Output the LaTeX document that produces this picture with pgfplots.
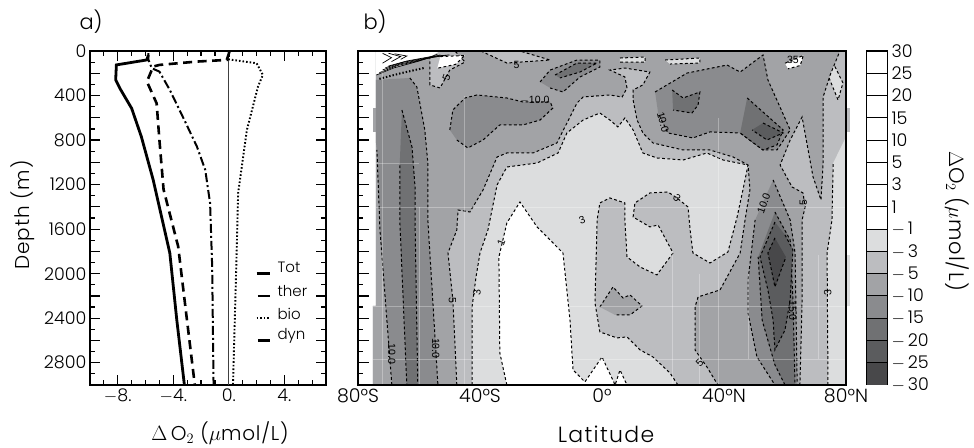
\documentclass[border=0pt]{standalone}
\usepackage{fontspec}
\setmainfont{Poppins}[UprightFont=* Light]
\newfontfamily\lab{Liberation Sans}
\usepackage{pgfplots}
\usepackage{pgfplotstable}
\pgfplotsset{compat=1.18}
\definecolor{cA}{HTML}{DCDDDE}
\definecolor{cB}{HTML}{BCBDC0}
\definecolor{cC}{HTML}{A2A3A6}
\definecolor{cD}{HTML}{8A8B8E}
\definecolor{cE}{HTML}{707173}
\definecolor{cF}{HTML}{5B5C5E}
\definecolor{cG}{HTML}{48484A}
\pgfplotstableread{
lat d
-42.6 3000
-42.6 2299
-41.3 2029
-40 1814
-37.4 1607
-34.4 1203
-31.2 1042
-21.3 1006
-14.4 916
-11.5 736
-6.2 620
-0.7 557
2.6 620
5.2 682
7.5 602
10.2 709
13.4 916
18 961
26.6 979
34.4 916
39.7 979
47.9 1024
46.2 1248
44.3 1491
41.3 1805
35.4 1904
29.8 1814
28.9 1607
28.2 1401
24.6 1320
21.6 1266
15.7 1275
10.8 1365
10.2 1491
15.7 1580
18.4 1563
23.3 1814
18 2011
12.5 1940
8.2 1850
7.5 1518
7.5 1365
2.6 1320
-0.7 1365
-1.6 1518
-2.3 2263
-0.7 2523
4.9 2577
8.2 2568
12.5 2685
16.7 2748
22.3 2892
24.9 3000
}\Lthree
\pgfplotstableread{
lat d
-31.2 3000
-33.5 2712
-33.8 1850
-31.2 1545
-26.9 1356
-21.3 1580
-12.8 1814
-10.5 2416
-9.5 2865
-5.6 2972
0 2748
2 2865
4.3 3000
5.9 2865
8.2 3000
}\Lone
\pgfplotstableread{
lat d
-75.1 3000
-47.6 3000
-48.9 2236
-50.5 1814
-47.6 1607
-47.2 1428
-43.3 1446
-39 1248
-34.4 952
-31.2 916
-22.6 916
-14.8 826
-11.5 647
-8.2 467
-6.2 413
2.6 395
6.6 413
8.2 332
7.5 233
2.6 171
7.5 153
15.7 189
13.4 305
10.2 350
10.2 440
11.5 620
13.4 736
16.7 826
26.6 889
35.4 889
43 952
47.9 1024
48.5 1248
46.9 1518
45.3 1814
38.7 2146
31.5 2209
30.5 2299
30.5 2685
34.4 2838
38 3000
64.9 3000
65.6 2236
65.6 1518
66.6 1401
65.9 1275
62.3 1221
58.4 1024
61.7 799
65.6 593
69.2 1131
71.8 1338
72.5 1006
72.5 413
74.8 216
78 0
-74.1 0
-74.1 2290
-75.1 2290
}\Lfive
\pgfplotstableread{
lat d
-68.9 3000
-72.8 1607
-73.8 889
-74.1 826
-74.1 260
-63 242
-60.7 323
-58.1 709
-57.1 1006
-57.1 1518
-53.8 3000
}\TenS
\pgfplotstableread{
lat d
-65.6 530
-62.3 862
-61.3 1221
-61.3 1518
-60.4 3000
-64 3000
-66.3 1518
-66.3 1006
}\FifS
\pgfplotstableread{
lat d
-49.9 709
-48.9 530
-44.9 422
-41 395
-31.2 422
-25.9 458
-17 458
-16.1 512
-20.3 620
-25.9 664
-33.5 664
-39 799
-44 871
-47.6 799
}\TenMid
\pgfplotstableread{
lat d
-20.3 278
-17 171
-8.2 81
-0.7 81
-0.7 144
-7.2 233
-12.8 368
-17 332
}\TenTop
\pgfplotstableread{
lat d
-15.4 216
-8.2 108
-1.6 108
-7.2 189
-13.8 242
}\FifTop
\pgfplotstableread{
lat d
-56.4 0
-56.4 305
-53.1 332
-49.9 171
-44.9 99
-48.2 0
}\LobeA
\pgfplotstableread{
lat d
-39.7 0
-31.2 108
-17 81
-26.9 0
}\LobeB
\pgfplotstableread{
lat d
17.4 368
27.9 198
41 126
45.3 189
52.8 36
54.4 260
61.7 709
57.4 889
52.8 889
45.3 736
35.4 727
29.8 781
21.6 736
18.4 557
}\TenN
\pgfplotstableread{
lat d
47.6 422
59.4 709
57.4 844
52.8 889
45.3 736
}\FifN
\pgfplotstableread{
lat d
52.8 647
59.4 736
54.1 799
49.2 709
}\TwoN
\pgfplotstableread{
lat d
23 350
26.6 422
32.1 368
31.5 485
29.5 557
23.3 530
}\FifB
\pgfplotstableread{
lat d
56.1 1158
61.7 1518
63.3 1814
64 3000
56.7 3000
50.8 2748
47.9 2353
47.9 2056
50.2 1518
}\TenL
\pgfplotstableread{
lat d
56.7 1446
61.7 1697
62.6 2236
63.3 3000
60 3000
56.7 2820
52.5 2416
51.2 1850
}\FifL
\pgfplotstableread{
lat d
56.7 1536
51.8 1850
54.4 2146
56.1 2416
56.7 2685
60 2505
61.7 2236
62.6 1787
60 1652
}\TwoL
\pgfplotstableread{
lat d
56.7 1679
54.4 1814
56.7 2119
60.3 1850
}\TwfL
\pgfplotstableread{
lat d
74.1 3000
73.8 1814
75.4 1518
75.8 1006
80 772
80 3000
}\RightL
\pgfplotstableread{
lat d
73.8 198
77.4 440
79 287
75.8 108
}\RightT
\pgfplotstableread{
lat d
-0.7 2299
3.6 2119
6.9 2218
9.2 2191
13.1 2290
9.2 2371
4.3 2371
}\BlobC
\pgfplotstableread{
lat d
-53 50
-45 40
-48 120
-54 155
}\SpA
\pgfplotstableread{
lat d
5.9 63
14.1 54
14.1 99
5.9 99
}\SpB
\pgfplotstableread{
lat d
20.7 81
32.1 63
32.1 108
22.3 117
}\SpC
\pgfplotstableread{
lat d
60 110
66 40
65 130
61 160
}\SpD
\pgfplotsset{
  ctr/.style={black,line width=1pt,dash pattern=on 2.8pt off 2.4pt,restrict x to domain=-74:79.9,unbounded coords=jump},
  base/.style={scale only axis,tick align=inside,axis line style={line width=1.6pt},
    tick style={black,line width=1.2pt},
    /pgf/number format/assume math mode=true,
    /pgf/number format/1000 sep={},
    tick label style={font=\fontsize{17.5}{19}\selectfont}},
}
\newcommand{\reg}[2]{\addplot[fill=#1,draw=none,forget plot] table[x=lat,y=d] {#2};
  \addplot[ctr,forget plot] table[x=lat,y=d] {#2};}
\newcommand{\clab}[4]{\node[font=\fontsize{10.5}{11}\selectfont\lab,inner sep=0.3pt,rotate=#4] at (axis cs:#1,#2) {#3};}
\begin{document}
\begin{tikzpicture}[x=1pt,y=1pt]
\path[use as bounding box] (0,0) rectangle (974,447);
% panel a
\begin{axis}[base,at={(90pt,62pt)},anchor=south west,width=236pt,height=334pt,
  xmin=-10,xmax=7,ymin=0,ymax=3000,y dir=reverse,
  xtick={-8,-4,0,4},xticklabels={$-$8.,$-$4.,0.,4.},
  minor xtick={-9,-7,-6,-5,-3,-2,-1,1,2,3,5,6},
  ytick={0,200,...,3000},
  yticklabels={0,{},400,{},800,{},1200,{},1600,{},2000,{},2400,{},2800,{}},
  minor ytick={100,300,...,2900},
  major tick length=10pt,minor tick length=5pt,
  xtick pos=both,ytick pos=both,xticklabel pos=bottom,yticklabel pos=left,
  clip=false]
\addplot[black!75,line width=0.8pt,forget plot] coordinates {(0,0) (0,3000)};
\addplot[black,line width=2.8pt,forget plot] coordinates {(-5.8,36) (-5.9,80) (-8.1,125) (-8.15,260) (-7.85,335) (-7,515) (-6.3,770) (-5.45,1157) (-4.25,1815) (-3.75,2413) (-3.2,3000)};
\addplot[black,line width=2.6pt,dash pattern=on 9pt off 5.5pt,forget plot] coordinates {(0.05,5) (-0.15,80) (-2.3,95) (-5,125) (-5.45,140) (-5.9,275) (-5.2,470) (-5,800) (-4.7,1245) (-3.65,1755) (-3.05,2380) (-2.45,3000)};
\addplot[black,line width=1.9pt,dash pattern=on 1.6pt off 2pt,forget plot] coordinates {(0,5) (0,75) (2,110) (2.45,215) (2.1,320) (1.3,710) (0.67,1277) (0.55,1875) (0.3,3000)};
\addplot[black,line width=2pt,dash pattern=on 9pt off 3pt on 2pt off 3pt,forget plot] coordinates {(-5.8,20) (-5.8,75) (-5.55,155) (-5,185) (-4.25,350) (-3.15,634) (-2.3,858) (-1.7,1067) (-1.35,1366) (-1.2,1934) (-1.1,3000)};
\addplot[black,line width=2.8pt,forget plot] coordinates {(2,2000) (3,2000)};
\addplot[black,line width=2.8pt,forget plot] coordinates {(2.1,2200) (3,2200)};
\addplot[black,line width=1.9pt,dash pattern=on 1.6pt off 2pt,forget plot] coordinates {(2,2400) (3,2400)};
\addplot[black,line width=2.8pt,forget plot] coordinates {(2.1,2600) (3,2600)};
\node[anchor=west,font=\fontsize{15}{16}\selectfont,inner sep=0pt] at (axis cs:3.5,1940) {Tot};
\node[anchor=west,font=\fontsize{15}{16}\selectfont,inner sep=0pt] at (axis cs:3.5,2160) {ther};
\node[anchor=west,font=\fontsize{15}{16}\selectfont,inner sep=0pt] at (axis cs:3.5,2360) {bio};
\node[anchor=west,font=\fontsize{15}{16}\selectfont,inner sep=0pt] at (axis cs:3.5,2560) {dyn};
\end{axis}
% panel b
\begin{axis}[base,at={(358pt,62pt)},anchor=south west,width=488pt,height=334pt,
  xmin=-80,xmax=80,ymin=0,ymax=3000,y dir=reverse,axis on top,
  xtick={-80,-40,0,40,80},xticklabels={80°S,40°S,0°,40°N,80°N},
  ytick={0,200,...,3000},yticklabels={},minor ytick={100,300,...,2900},
  major tick length=11pt,minor tick length=5pt,
  xtick style={draw=none},xtick pos=bottom,ytick pos=left,clip=false,
  xticklabel style={font=\fontsize{19}{21}\selectfont}]
\addplot[fill=cB,draw=none,forget plot] coordinates {(-74.1,0) (80,0) (80,3000) (-75.1,3000) (-75.1,2290) (-74.1,2290)};
\addplot[fill=cC,draw=none,forget plot] coordinates {(-75,510) (-74,510) (-74,730) (-75,730)};
\addplot[fill=cB,draw=none,forget plot] coordinates {(80,510) (81.2,510) (81.2,730) (80,730)};
\addplot[fill=cA,draw=none,forget plot] coordinates {(80,1830) (81.2,1830) (81.2,2290) (80,2290)};
\reg{cA}{\Lthree}
\reg{cA}{\RightL}
\reg{cA}{\RightT}
\reg{white}{\Lone}
\reg{cC}{\Lfive}
\reg{cB}{\LobeA}
\reg{cB}{\LobeB}
\reg{white}{\SpA}
\reg{cA}{\SpB}
\reg{cA}{\SpC}
\reg{white}{\SpD}
\reg{cC}{\BlobC}
\reg{cD}{\TenS}
\reg{cE}{\FifS}
\reg{cD}{\TenMid}
\reg{cD}{\TenTop}
\reg{cE}{\FifTop}
\reg{cD}{\TenN}
\reg{cE}{\FifN}
\reg{cF}{\TwoN}
\reg{cE}{\FifB}
\reg{cD}{\TenL}
\reg{cE}{\FifL}
\reg{cF}{\TwoL}
\reg{cG}{\TwfL}
\addplot[fill=white,draw=none,forget plot] coordinates {(-74.1,0) (-53.1,0) (-56.4,54) (-66.3,135) (-71.2,189) (-74.1,216)};
\addplot[black,line width=0.7pt,forget plot] coordinates {(-74,216) (-68,150) (-60,90) (-54,30)};
\addplot[black,line width=0.7pt,forget plot] coordinates {(-73,195) (-67,130) (-59,80) (-53,35)};
\addplot[black,line width=0.7pt,forget plot] coordinates {(-72,170) (-66,115) (-58,70) (-52,40)};
\addplot[black,line width=0.7pt,forget plot] coordinates {(-71,150) (-65,100) (-57,60) (-51,40)};
\addplot[black,line width=0.7pt,forget plot] coordinates {(-70,135) (-64,90) (-56,50) (-50,35)};
\addplot[black,line width=0.7pt,forget plot] coordinates {(-72,20) (-69,60) (-72,110)};
\addplot[black,line width=0.7pt,forget plot] coordinates {(-70,20) (-66,50) (-69,95)};
\addplot[black,line width=0.7pt,forget plot] coordinates {(-68,25) (-64,45) (-66,75)};
\addplot[black,line width=2pt,dash pattern=on 1.4pt off 2pt,forget plot] coordinates {(-73,250) (-66,200) (-58,150)};
% faint streaks of the original grid
\addplot[white,opacity=0.3,line width=0.7pt,forget plot] coordinates {(-75,2290) (80,2290)};
\addplot[white,opacity=0.3,line width=0.7pt,forget plot] coordinates {(-75,2766) (80,2766)};
\addplot[white,opacity=0.3,line width=0.7pt,forget plot] coordinates {(-74,1006) (-60,1006)};
\addplot[white,opacity=0.3,line width=0.7pt,forget plot] coordinates {(-74,1400) (80,1400)};
\addplot[white,opacity=0.3,line width=0.7pt,forget plot] coordinates {(-72,0) (-72,3000)};
\addplot[white,opacity=0.3,line width=0.7pt,forget plot] coordinates {(-60,1400) (-60,3000)};
\addplot[white,opacity=0.3,line width=0.7pt,forget plot] coordinates {(-45,400) (-45,3000)};
\addplot[white,opacity=0.3,line width=0.7pt,forget plot] coordinates {(23,1800) (23,3000)};
\addplot[white,opacity=0.3,line width=0.7pt,forget plot] coordinates {(32,2000) (32,3000)};
\addplot[white,opacity=0.3,line width=0.7pt,forget plot] coordinates {(38,600) (38,3000)};
\addplot[white,opacity=0.3,line width=0.7pt,forget plot] coordinates {(48,2000) (48,2770)};
\addplot[white,opacity=0.3,line width=0.7pt,forget plot] coordinates {(71,1830) (71,2770)};
\clab{-22}{442}{$-$10.0}{0}
\clab{-51}{240}{5}{70}
\clab{-28}{125}{5}{0}
\clab{20}{640}{10.0}{-75}
\clab{24.6}{1320}{3}{-45}
\clab{53}{1370}{10.0}{70}
\clab{66}{1360}{5}{90}
\clab{-6.5}{1520}{3}{20}
\clab{-33}{1720}{1}{70}
\clab{-41}{2170}{3}{90}
\clab{-49}{2240}{5}{-90}
\clab{-68.9}{2720}{10.0}{-90}
\clab{-54.5}{2670}{10.0}{-90}
\clab{62.5}{2330}{15.0}{-90}
\clab{74}{2170}{3}{90}
\clab{32}{2800}{5}{45}
\clab{62.6}{81}{35}{0}
\end{axis}
% colour bar
\begin{axis}[scale only axis,at={(866pt,62pt)},anchor=south west,width=21pt,height=334pt,
  xmin=0,xmax=1,ymin=0,ymax=15,axis line style={line width=1pt},
  xtick=\empty,ytick={0,...,15},
  yticklabels={$-$\,30,$-$\,25,$-$\,20,$-$\,15,$-$\,10,$-$\,5,$-$\,3,$-$\,1,1,3,5,10,15,20,25,30},
  tick style={draw=none},yticklabel pos=right,
  yticklabel style={anchor=west,xshift=1pt,font=\fontsize{17.5}{19}\selectfont},
  /pgf/number format/assume math mode=true]
\addplot[fill=cG,draw=black,line width=0.9pt,forget plot] coordinates {(0,0) (1,0) (1,1) (0,1)} --cycle;
\addplot[fill=cF,draw=black,line width=0.9pt,forget plot] coordinates {(0,1) (1,1) (1,2) (0,2)} --cycle;
\addplot[fill=cE,draw=black,line width=0.9pt,forget plot] coordinates {(0,2) (1,2) (1,3) (0,3)} --cycle;
\addplot[fill=cD,draw=black,line width=0.9pt,forget plot] coordinates {(0,3) (1,3) (1,4) (0,4)} --cycle;
\addplot[fill=cC,draw=black,line width=0.9pt,forget plot] coordinates {(0,4) (1,4) (1,5) (0,5)} --cycle;
\addplot[fill=cB,draw=black,line width=0.9pt,forget plot] coordinates {(0,5) (1,5) (1,6) (0,6)} --cycle;
\addplot[fill=cA,draw=black,line width=0.9pt,forget plot] coordinates {(0,6) (1,6) (1,7) (0,7)} --cycle;
\addplot[fill=white,draw=black,line width=0.9pt,forget plot] coordinates {(0,7) (1,7) (1,8) (0,8)} --cycle;
\addplot[fill=white,draw=black,line width=0.9pt,forget plot] coordinates {(0,8) (1,8) (1,9) (0,9)} --cycle;
\addplot[fill=white,draw=black,line width=0.9pt,forget plot] coordinates {(0,9) (1,9) (1,10) (0,10)} --cycle;
\addplot[fill=white,draw=black,line width=0.9pt,forget plot] coordinates {(0,10) (1,10) (1,11) (0,11)} --cycle;
\addplot[fill=white,draw=black,line width=0.9pt,forget plot] coordinates {(0,11) (1,11) (1,12) (0,12)} --cycle;
\addplot[fill=white,draw=black,line width=0.9pt,forget plot] coordinates {(0,12) (1,12) (1,13) (0,13)} --cycle;
\addplot[fill=white,draw=black,line width=0.9pt,forget plot] coordinates {(0,13) (1,13) (1,14) (0,14)} --cycle;
\addplot[fill=white,draw=black,line width=0.9pt,forget plot] coordinates {(0,14) (1,14) (1,15) (0,15)} --cycle;
\end{axis}
\node[font=\fontsize{21}{23}\selectfont] at (91,425) {a)};
\node[font=\fontsize{21}{23}\selectfont] at (375,425) {b)};
\node[font=\fontsize{20}{22}\selectfont\addfontfeatures{LetterSpace=4}] at (220,14) {$\Delta$\,O$_2$ ($\mu$mol/L)};
\node[font=\fontsize{22}{24}\selectfont\addfontfeatures{LetterSpace=6}] at (606,13) {Latitude};
\node[font=\fontsize{20}{22}\selectfont\addfontfeatures{LetterSpace=5},rotate=90] at (23,232) {Depth (m)};
\node[font=\fontsize{21}{23}\selectfont\addfontfeatures{LetterSpace=5},rotate=-90] at (957,226) {$\Delta$O$_2$ ($\mu$mol/L)};
\end{tikzpicture}
\end{document}
